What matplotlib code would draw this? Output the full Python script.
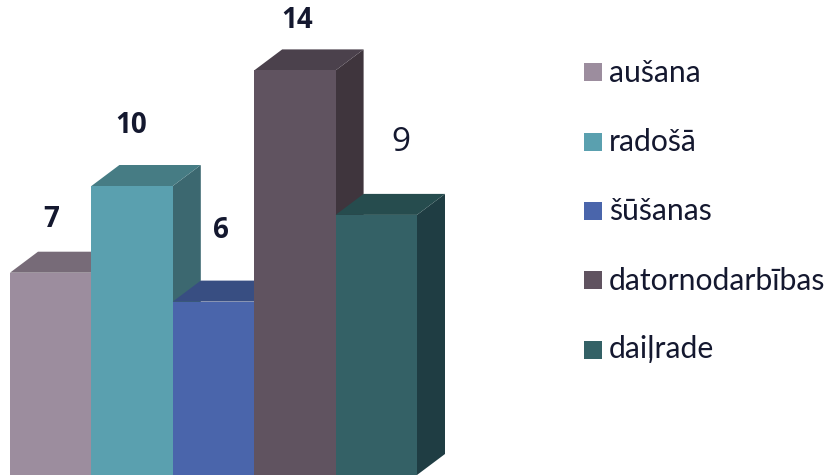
import matplotlib
matplotlib.use("Agg")
import matplotlib.pyplot as plt
from matplotlib.patches import Polygon

categories = ["aušana", "radošā", "šūšanas", "datornodarbības", "daiļrade"]
values = [7, 10, 6, 14, 9]
front_colors = ["#9C8D9E", "#5AA0AF", "#4A65AB", "#605360", "#346166"]
top_colors = ["#776B78", "#467C84", "#384E82", "#4B414C", "#264C4E"]
side_colors = ["#6B616D", "#3C6870", "#324574", "#3F353D", "#1F3D43"]
label_sizes = [20, 20, 20, 20, 24]
label_weights = ["bold", "bold", "bold", "bold", "normal"]
label_xy = [(51.5, 227), (131, 133), (221, 238), (297.5, 28), (400.5, 151)]
legend_base = [82, 151, 220, 290, 358]
legend_mid = [72, 142, 211, 280, 350]
text_color = "#14182F"

W, H = 831, 475
plt.rcParams["font.family"] = ["Open Sans", "DejaVu Sans"]
fig = plt.figure(figsize=(W / 100, H / 100), dpi=100)

# axes: one category = 81.4 px, one unit = 28.9 px, baseline at y=475 px
unit_x, unit_y = 81.4, 28.9
ax = fig.add_axes([0, 0, 1, 1])
x0 = (0 - 10) / unit_x - 0.5
ax.set_xlim(x0, x0 + W / unit_x)
ax.set_ylim(0, H / unit_y)
ax.axis("off")

dx, dy = 28 / unit_x, 21 / unit_y
for i in range(len(values)):
    v = values[i]
    l, r = i - 0.5, i + 0.5
    z = 2 + i
    ax.add_patch(Polygon([(r, 0), (r + dx, dy), (r + dx, v + dy), (r, v)],
                         closed=True, fc=side_colors[i], ec="none", zorder=z))
    ax.add_patch(Polygon([(l, v), (l + dx, v + dy), (r + dx, v + dy), (r, v)],
                         closed=True, fc=top_colors[i], ec="none", zorder=z))
    ax.bar(i, v, width=1.0, color=front_colors[i], zorder=z + 0.5)

for i, (px, py) in enumerate(label_xy):
    fig.text(px / W, 1 - py / H, str(values[i]), ha="center", va="baseline",
             fontsize=label_sizes[i], fontweight=label_weights[i], color=text_color)

for i, name in enumerate(categories):
    fig.patches.append(plt.Rectangle((584 / W, 1 - (legend_mid[i] + 9) / H), 18 / W, 18 / H,
                                     transform=fig.transFigure, fc=front_colors[i], ec="none"))
    fig.text(609 / W, 1 - legend_base[i] / H, name, ha="left", va="baseline",
             fontsize=21.7, color=text_color, family=["Lato", "DejaVu Sans"])

fig.savefig("out.png", dpi=100)
